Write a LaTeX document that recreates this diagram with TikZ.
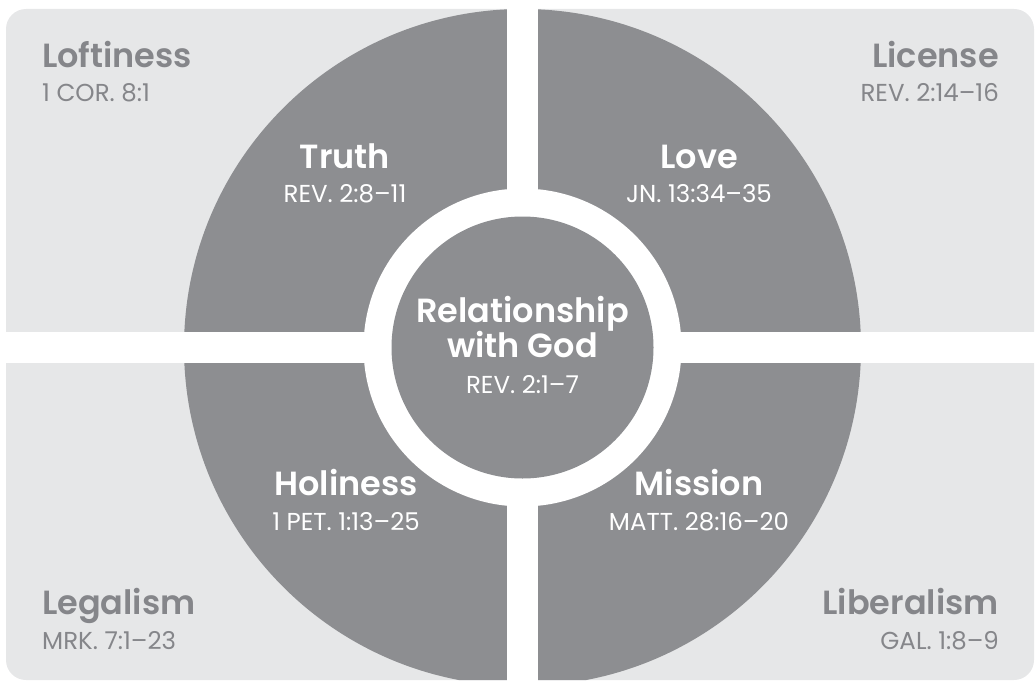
\documentclass[tikz,border=0pt]{standalone}
\usepackage{fontspec}
\setmainfont{Poppins}[BoldFont={Poppins SemiBold}]
\definecolor{lightq}{HTML}{E6E7E8}
\definecolor{darkq}{HTML}{8D8E91}
\definecolor{txtq}{HTML}{85868A}
\begin{document}
\begin{tikzpicture}[x=1pt,y=-1pt,
  head/.style={font=\fontsize{33.5}{36}\selectfont\bfseries, inner sep=0pt},
  ref/.style={font=\fontsize{24.5}{28}\selectfont, inner sep=0pt},
  onlight/.style={text=txtq},
  ondark/.style={text=white}]
\useasboundingbox (0,0) rectangle (1036,682);
% light background with rounded outer corners
\fill[lightq, rounded corners=20pt] (6,9) rectangle (1034,680);
% big dark circle clipped to the background
\begin{scope}
  \clip[rounded corners=20pt] (6,9) rectangle (1034,680);
  \fill[darkq] (522.5,347.5) circle[radius=338.5pt];
\end{scope}
% white cross gaps
\fill[white] (507,0) rectangle (538,682);
\fill[white] (0,332) rectangle (1036,363);
% white ring and centre disc
\fill[white] (522.5,347.5) circle[radius=159pt];
\fill[darkq] (522.5,347.5) circle[radius=131pt];

% corner labels
\node[head,onlight,anchor=base west] (loft) at (42,68) {Loftiness};
\node[ref,onlight,anchor=base west] (loftr) at (42,102) {1 COR. 8:1};
\node[head,onlight,anchor=base east] (lic) at (999,68) {License};
\node[ref,onlight,anchor=base east] (licr) at (999,102) {REV. 2:14–16};
\node[head,onlight,anchor=base west] (leg) at (42,614) {Legalism};
\node[ref,onlight,anchor=base west] (legr) at (42,649) {MRK. 7:1–23};
\node[head,onlight,anchor=base east] (lib) at (999,614) {Liberalism};
\node[ref,onlight,anchor=base east] (libr) at (999,649) {GAL. 1:8–9};

% quadrant labels in the dark circle
\node[head,ondark,anchor=base] (truth) at (345,168) {Truth};
\node[ref,ondark,anchor=base] (truthr) at (345,202) {REV. 2:8–11};
\node[head,ondark,anchor=base] (love) at (699,168) {Love};
\node[ref,ondark,anchor=base] (lover) at (699,202) {JN. 13:34–35};
\node[head,ondark,anchor=base] (hol) at (346,495) {Holiness};
\node[ref,ondark,anchor=base] (holr) at (346,530) {1 PET. 1:13–25};
\node[head,ondark,anchor=base] (mis) at (699,495) {Mission};
\node[ref,ondark,anchor=base] (misr) at (699,530) {MATT. 28:16–20};

% centre
\node[head,ondark,anchor=base] (rel1) at (522.5,322) {Relationship};
\node[head,ondark,anchor=base] (rel2) at (522.5,357) {with God};
\node[ref,ondark,anchor=base] (relr) at (522.5,393) {REV. 2:1–7};
\end{tikzpicture}
\end{document}
